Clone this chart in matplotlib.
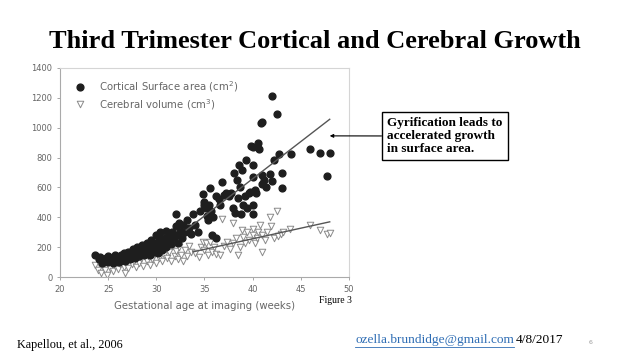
import matplotlib
matplotlib.use('Agg')
import matplotlib.pyplot as plt

# Cortical surface area (cm2) - filled dots
cortical_x = [23.6, 24.0, 24.2, 24.4, 24.6, 24.8, 25.0, 25.0, 25.2, 25.4, 25.5, 25.7, 25.8, 26.0, 26.1,
              26.3, 26.5, 26.6, 26.8, 27.0, 27.1, 27.3, 27.5, 27.6, 27.8, 28.0, 28.0, 28.2, 28.4, 28.5,
              28.7, 28.8, 29.0, 29.0, 29.2, 29.3, 29.5, 29.5, 29.7, 29.8, 30.0, 30.0, 30.1, 30.2, 30.3,
              30.4, 30.5, 30.6, 30.7, 30.8, 31.0, 31.0, 31.2, 31.3, 31.5, 31.6, 31.8, 32.0, 32.0, 32.1,
              32.3, 32.4, 32.5, 32.7, 32.8, 33.0, 33.2, 33.4, 33.6,
              33.8, 34.0, 34.3, 34.5, 34.8, 34.9, 35.0, 35.2, 35.3, 35.4, 35.5, 35.6, 35.7, 35.8, 35.9,
              36.2, 36.2, 36.5, 36.6, 36.8, 37.0, 37.2, 37.5, 37.8, 38.0, 38.1, 38.2, 38.4, 38.5, 38.6,
              38.7, 38.8, 38.9, 39.0, 39.2, 39.3, 39.4, 39.6, 39.7, 39.8, 40.0, 40.0, 40.0, 40.0, 40.0,
              40.2, 40.3, 40.6, 40.7, 40.9, 41.0, 41.0, 41.0, 41.2, 41.4, 41.8, 42.0, 42.0, 42.2, 42.5,
              42.7, 43.0, 43.0, 44.0, 46.0, 47.0, 48.0, 47.7]
cortical_y = [150, 120, 135, 95, 110, 130, 100, 140, 115, 125, 95, 150, 110, 130, 100,
              145, 120, 160, 105, 135, 170, 120, 150, 190, 130, 165, 200, 140, 180, 215,
              150, 190, 170, 230, 200, 145, 185, 250, 210, 170, 280, 230, 195, 160, 250,
              300, 210, 180, 260, 230, 310, 200, 270, 240, 220, 300, 260, 420, 340, 280,
              230, 360, 310, 260, 350, 300, 380, 330, 290,
              420, 350, 300, 440, 556, 480, 500, 460, 410, 380, 480, 594, 440, 284, 400,
              262, 540, 520, 480, 638, 550, 560, 545, 560, 460, 694, 430, 650, 530, 750,
              605, 420, 717, 480, 540, 784, 460, 560, 571, 878, 870, 750, 672, 480, 420,
              582, 560, 896, 856, 1030, 1040, 680, 620, 650, 600, 690, 1214, 640, 784, 1091,
              824, 694, 598, 824, 856, 829, 833, 676]

# Cerebral volume (cm3) - open triangles
cerebral_x = [23.6, 23.9, 24.1, 24.3, 24.5, 24.7, 24.9, 25.0, 25.2, 25.4, 25.5, 25.7, 25.9, 26.0, 26.2,
              26.4, 26.6, 26.8, 27.0, 27.1, 27.3, 27.5, 27.7, 27.9, 28.0, 28.2, 28.4, 28.6, 28.8, 29.0,
              29.1, 29.3, 29.5, 29.6, 29.8, 30.0, 30.1, 30.3, 30.5, 30.6, 30.8, 31.0, 31.1, 31.3, 31.5,
              31.7, 31.9, 32.0, 32.2, 32.4, 32.6, 32.8, 33.0, 33.2, 33.4, 33.6,
              34.0, 34.4, 34.6, 34.8, 35.0, 35.2, 35.4, 35.6, 35.8, 36.0, 36.2, 36.6, 36.8, 37.0, 37.3,
              37.6, 38.0, 38.0, 38.3, 38.5, 38.7, 38.9, 39.0, 39.2, 39.4, 39.6, 40.0, 40.0, 40.2, 40.4,
              40.6, 40.8, 41.0, 41.0, 41.3, 41.5, 41.8, 41.9, 42.2, 42.5, 42.6, 42.9, 43.1, 43.9, 46.0,
              47.0, 47.7, 48.0]
cerebral_y = [80, 50, 95, 30, 70, 45, 15, 85, 60, 100, 40, 75, 110, 55, 90,
              120, 70, 25, 100, 60, 130, 85, 110, 65, 150, 95, 125, 75, 165, 105,
              140, 80, 180, 120, 150, 95, 200, 130, 170, 110, 150, 190, 125, 165, 105,
              210, 140, 175, 120, 200, 150, 110, 180, 140, 210, 170,
              160, 134, 200, 235, 180, 228, 150, 235, 170, 200, 157, 146, 388, 210, 235,
              190, 363, 230, 260, 146, 202, 314, 270, 230, 302, 250, 325, 280, 230, 260,
              300, 349, 168, 280, 250, 300, 399, 345, 260, 443, 273, 290, 302, 325, 347,
              314, 291, 296]

# trend lines (visible segments)
cortical_fit_x = [33.1, 48.0]
cortical_fit_y = [315, 1056]
cerebral_fit_x = [33.8, 48.0]
cerebral_fit_y = [169, 370]

xticks = [20, 25, 30, 35, 40, 45, 50]
yticks = [0, 200, 400, 600, 800, 1000, 1200, 1400]

fig = plt.figure(figsize=(6.38, 3.59), dpi=100)
ax = fig.add_axes([0.094, 0.228, 0.453, 0.583])

ax.scatter(cerebral_x, cerebral_y, marker='v', s=22, facecolors='white',
           edgecolors='#8a8a8a', linewidths=0.7, zorder=2)
ax.scatter(cortical_x, cortical_y, marker='o', s=24, color='#1e1e1e', zorder=3)
ax.plot(cortical_fit_x, cortical_fit_y, color='#555555', lw=1.0, zorder=4)
ax.plot(cerebral_fit_x, cerebral_fit_y, color='#555555', lw=1.0, zorder=4)

ax.set_xlim(20, 50)
ax.set_ylim(0, 1400)
ax.set_xticks(xticks)
ax.set_yticks(yticks)
ax.tick_params(labelsize=6, colors='#999999', labelcolor='#666666', length=2, width=0.6)
for s in ['left', 'bottom']:
    ax.spines[s].set_color('#aaaaaa')
for s in ['top', 'right']:
    ax.spines[s].set_color('#d5d5d5')
ax.set_xlabel('Gestational age at imaging (weeks)', fontsize=7.3, color='#666666', labelpad=5)

# legend drawn by hand like the source figure
ax.scatter([22.1], [1275], marker='o', s=24, color='#1e1e1e', clip_on=False)
ax.text(24.1, 1275, 'Cortical Surface area (cm$^2$)', fontsize=7.3, color='#666666', va='center')
ax.scatter([22.1], [1155], marker='v', s=22, facecolors='white', edgecolors='#8a8a8a', linewidths=0.7)
ax.text(24.1, 1155, 'Cerebral volume (cm$^3$)', fontsize=7.3, color='#666666', va='center')

fig.text(0.493, 0.885, 'Third Trimester Cortical and Cerebral Growth', ha='center', va='center',
         fontsize=19, fontweight='bold', family='Liberation Serif')

ax.annotate('Gyrification leads to\naccelerated growth\nin surface area.',
            xy=(48.0, 945), xycoords='data', xytext=(0.607, 0.621), textcoords='figure fraction',
            ha='left', va='center', fontsize=9.5, fontweight='bold', family='Liberation Serif',
            linespacing=1.1,
            bbox=dict(boxstyle='square,pad=0.4', fc='white', ec='black', lw=1.0),
            arrowprops=dict(arrowstyle='-|>', color='black', lw=0.8, mutation_scale=5,
                            shrinkA=0, shrinkB=0))

fig.text(0.5, 0.163, 'Figure 3', fontsize=7, family='Liberation Serif', va='center')
fig.text(0.026, 0.038, 'Kapellou, et al., 2006', fontsize=8.8, family='Liberation Serif', va='center')
fig.text(0.557, 0.052, 'ozella.brundidge@gmail.com', fontsize=9.6, family='Liberation Serif',
         va='center', color='#2e6db4')
fig.add_artist(plt.Line2D([0.557, 0.806], [0.033, 0.033], color='#2e6db4', lw=0.6))
fig.text(0.809, 0.052, '4/8/2017', fontsize=9.6, family='Liberation Serif', va='center')
fig.text(0.922, 0.045, '6', fontsize=4.5, color='#999999', va='center')

fig.savefig('out.png', dpi=100)
